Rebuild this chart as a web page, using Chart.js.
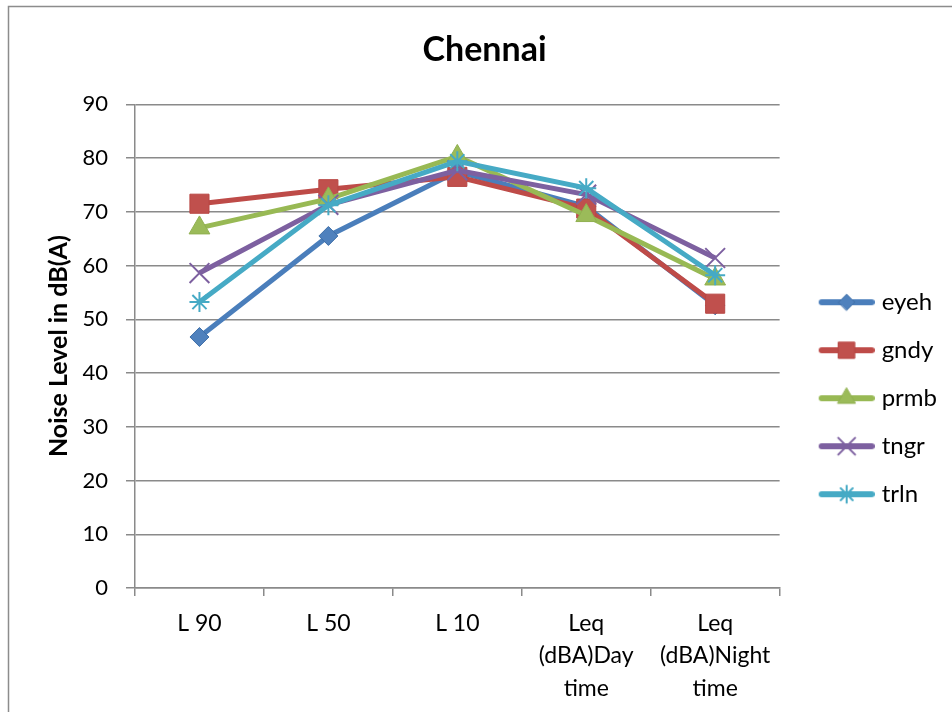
<!DOCTYPE html>
<html>
<head>
<meta charset="utf-8">
<title>Chennai</title>
<script src="https://cdn.jsdelivr.net/npm/chart.js@4.4.1/dist/chart.umd.min.js"></script>
<style>
  html, body { margin: 0; padding: 0; background: #fff; overflow: hidden; }
  #wrap { position: relative; width: 952px; height: 712px; }
</style>
</head>
<body>
<div id="wrap"><canvas id="c" width="952" height="712"></canvas></div>
<script>
// Categories along the x axis
const categories = ['L 90', 'L 50', 'L 10', ['Leq', '(dBA)Day', 'time'], ['Leq', '(dBA)Night', 'time']];

// Noise levels, dB(A), per monitoring site
const eyeh = [46.7, 65.5, 77.5, 71.0, 52.6];
const gndy = [71.5, 74.2, 76.5, 70.6, 52.9];
const prmb = [67.0, 72.4, 80.3, 69.3, 57.5];
const tngr = [58.6, 71.3, 77.7, 73.2, 61.4];
const trln = [53.2, 71.2, 79.4, 74.4, 58.2];

const seriesNames = ['eyeh', 'gndy', 'prmb', 'tngr', 'trln'];
const seriesValues = [eyeh, gndy, prmb, tngr, trln];

// Y axis range
const yMin = 0, yMax = 90, yStep = 10;

const FONT = 'Lato';
const GRID = '#8a8a8a';

const styles = [
  { line: '#4A7EBB', fill: '#4F81BD', border: '#3F6FA8', pointStyle: 'rectRot', radius: 9.5, bw: 1 },
  { line: '#BE4B48', fill: '#C0504D', border: '#B84744', pointStyle: 'rect', radius: 13.5, bw: 1 },
  { line: '#98B954', fill: '#9BBB59', border: '#90B050', pointStyle: 'triangle', radius: 12, bw: 1 },
  { line: '#7D60A0', fill: 'rgba(0,0,0,0)', border: '#7D60A0', pointStyle: 'crossRot', radius: 14, bw: 2 },
  { line: '#46AAC5', fill: 'rgba(0,0,0,0)', border: '#46AAC5', pointStyle: 'star', radius: 10, bw: 2 }
];

// Legend swatches: a short thick line with the series marker on it
function legendIcon(st) {
  const cv = document.createElement('canvas');
  cv.width = 76; cv.height = 26;
  const ctx = cv.getContext('2d');
  ctx.strokeStyle = st.line;
  ctx.lineWidth = 6;
  ctx.lineCap = 'round';
  ctx.beginPath();
  ctx.moveTo(23, 13);
  ctx.lineTo(73, 13);
  ctx.stroke();
  ctx.fillStyle = st.fill;
  ctx.strokeStyle = st.border;
  ctx.lineWidth = st.bw;
  Chart.helpers.drawPoint(ctx, { pointStyle: st.pointStyle, radius: st.radius * 0.85, borderWidth: st.bw, rotation: 0 }, 48, 13);
  return cv;
}
const legendIcons = styles.map(legendIcon);

const datasets = seriesNames.map((name, i) => ({
  label: name,
  data: seriesValues[i],
  borderColor: styles[i].line,
  backgroundColor: styles[i].fill,
  borderWidth: 5,
  pointStyle: styles[i].pointStyle,
  pointRadius: styles[i].radius,
  pointHoverRadius: styles[i].radius,
  pointBackgroundColor: styles[i].fill,
  pointBorderColor: styles[i].border,
  pointBorderWidth: styles[i].bw,
  tension: 0,
  fill: false,
  order: seriesNames.length - 1 - i
}));

// White page and the chart frame
const framePlugin = {
  id: 'frame',
  beforeDraw(chart) {
    const ctx = chart.ctx;
    ctx.save();
    ctx.fillStyle = '#fff';
    ctx.fillRect(0, 0, chart.width, chart.height);
    ctx.strokeStyle = '#8c8c8c';
    ctx.lineWidth = 1.5;
    ctx.strokeRect(8.5, 6.5, 2000, 2000);
    ctx.restore();
  }
};

new Chart(document.getElementById('c'), {
  type: 'line',
  data: { labels: categories, datasets },
  plugins: [framePlugin],
  options: {
    responsive: false,
    devicePixelRatio: 1,
    animation: false,
    layout: { padding: { left: 22, right: 5, top: 6, bottom: 7 } },
    plugins: {
      title: {
        display: true,
        text: 'Chennai',
        color: '#000',
        font: { family: FONT, size: 34, weight: 'bold' },
        padding: { top: 24, bottom: 33.5 }
      },
      legend: {
        position: 'right',
        align: 'center',
        title: { display: true, text: '', padding: { top: 71, bottom: 0 }, font: { size: 12 } },
        labels: {
          usePointStyle: true,
          pointStyleWidth: 66,
          padding: 24,
          color: '#000',
          font: { family: FONT, size: 24 },
          generateLabels(chart) {
            const items = Chart.defaults.plugins.legend.labels.generateLabels(chart);
            items.forEach(it => { it.pointStyle = legendIcons[it.datasetIndex]; });
            return items;
          },
          sort: (a, b) => a.datasetIndex - b.datasetIndex
        }
      },
      tooltip: { enabled: false }
    },
    scales: {
      x: {
        offset: true,
        afterFit(scale) { scale.height = 117; },
        grid: { display: true, drawOnChartArea: false, drawTicks: true, tickLength: 8, color: GRID, lineWidth: 1.5, offset: true },
        border: { display: true, color: GRID, width: 1.5 },
        ticks: { color: '#000', font: { family: FONT, size: 23, lineHeight: 1.413 }, padding: 11, maxRotation: 0, autoSkip: false }
      },
      y: {
        min: yMin,
        max: yMax,
        afterFit(scale) { scale.width = 113; },
        grid: { color: GRID, lineWidth: 1.5, drawTicks: true, tickLength: 9 },
        border: { display: true, color: GRID, width: 1.5 },
        ticks: { stepSize: yStep, color: '#000', font: { family: FONT, size: 22 }, padding: 18 },
        title: {
          display: true,
          text: 'Noise Level in dB(A)',
          color: '#000',
          font: { family: FONT, size: 25, weight: 'bold' },
          padding: { top: 21.5, bottom: 0 }
        }
      }
    }
  }
});
</script>
</body>
</html>
